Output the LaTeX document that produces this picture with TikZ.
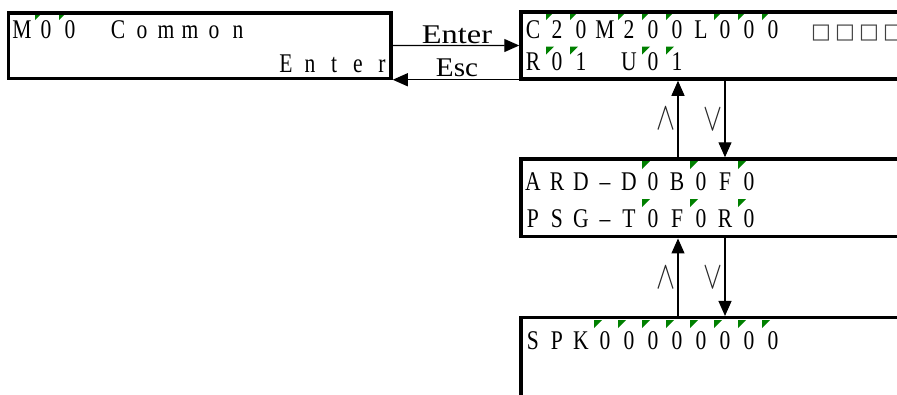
\documentclass[tikz,border=0pt]{standalone}
\usepackage{fontspec}
\usepackage{graphicx}
\setmainfont{Liberation Serif}
\newfontfamily\lcdfont{Liberation Serif}[FakeStretch=0.8]
\newfontfamily\symfont{DejaVu Sans}
\usetikzlibrary{arrows.meta}
\definecolor{markgreen}{RGB}{0,128,0}
\newcommand\lcdrow[4]{%
  \foreach \ch [count=\k from 0] in {#4} {
    \node[lcdchar, name=#1\k] at ({#2+24*\k},#3) {\ch};
  }}
\newcommand\lcdmarks[3]{%
  \foreach \k in {#3} {
    \fill[markgreen] ({#1+24*\k-11},#2) -- ++(8,0) -- ++(-8,8) -- cycle;
  }}
\tikzset{
  lcdchar/.style={anchor=base, inner sep=0pt, font=\lcdfont\fontsize{27}{27}\selectfont},
  sqchar/.style={anchor=base, inner sep=0pt, text=black!75, font=\symfont\fontsize{21}{21}\selectfont},
  lcdbox/.style={draw, line width=3.5pt, inner sep=0pt},
  conn/.style={line width=1.2pt, -{Triangle[length=15pt,width=13pt]}},
  lbl/.style={anchor=base, inner sep=0pt, font=\fontsize{27}{27}\selectfont},
  updn/.style={inner sep=0pt, text=black!85}
}
\begin{document}
\begin{tikzpicture}[x=1pt,y=-1pt]
\useasboundingbox (0,0) rectangle (897,394);
\clip (0,0) rectangle (897,394);
% green marks
\lcdmarks{22}{12}{1,2}
\lcdmarks{533}{12}{1,2,4,5,6,8,9,10}
\lcdmarks{533}{46.5}{1,2,5,6}
\lcdmarks{533}{161}{5,7,9}
\lcdmarks{533}{199}{5,7,9}
\lcdmarks{533}{320}{3,4,5,6,7,8,9,10}
% texts
\lcdrow{ta}{22}{38}{M,0,0,,C,o,m,m,o,n}
\lcdrow{tb}{286}{72}{E,n,t,e,r}
\lcdrow{tc}{533}{38.3}{C,2,0,M,2,0,0,L,0,0,0}
\foreach \k in {12,...,15} {\node[sqchar, name=sq\k] at ({533+24*\k},38.3) {□};}
\lcdrow{td}{533}{70.7}{R,0,1,,U,0,1}
\lcdrow{te}{533}{190}{A,R,D,–,D,0,B,0,F,0}
\lcdrow{tf}{533}{227.3}{P,S,G,–,T,0,F,0,R,0}
\lcdrow{tg}{533}{349}{S,P,K,0,0,0,0,0,0,0,0}
% boxes
\node[lcdbox, minimum width=382.3pt, minimum height=65.5pt] (b1) at (199.85,45.55) {};
\node[lcdbox, minimum width=384pt, minimum height=67pt] (b2) at (713,45.5) {};
\node[lcdbox, minimum width=384pt, minimum height=77.7pt] (b3) at (713,197.85) {};
\node[lcdbox, minimum width=384pt, minimum height=80pt] (b4) at (713,357.7) {};
% connectors
\draw[conn] (b1.east) -- (b2.west);
\draw[conn] ([yshift=1pt]b2.south west) -- ([yshift=1pt]b2.south west -| b1.east);
\node[lbl] (lenter) at (457,43) {\scalebox{1.2}[1]{Enter}};
\node[lbl] (lesc) at (457,76) {\scalebox{1.08}[1]{Esc}};
\draw[conn] ([xshift=-35pt]b3.north) -- ([xshift=-35pt]b2.south);
\draw[conn] ([xshift=12pt]b2.south) -- ([xshift=12pt]b3.north);
\draw[conn] ([xshift=-35pt]b4.north) -- ([xshift=-35pt]b3.south);
\draw[conn] ([xshift=12pt]b3.south) -- ([xshift=12pt]b4.north);
\node[updn] (up1) at (665.5,119) {\scalebox{2.85}[3.9]{$\wedge$}};
\node[updn] (dn1) at (713,120) {\scalebox{2.85}[3.9]{$\vee$}};
\node[updn] (up2) at (665.5,278) {\scalebox{2.85}[3.9]{$\wedge$}};
\node[updn] (dn2) at (713,278) {\scalebox{2.85}[3.9]{$\vee$}};
\end{tikzpicture}
\end{document}
